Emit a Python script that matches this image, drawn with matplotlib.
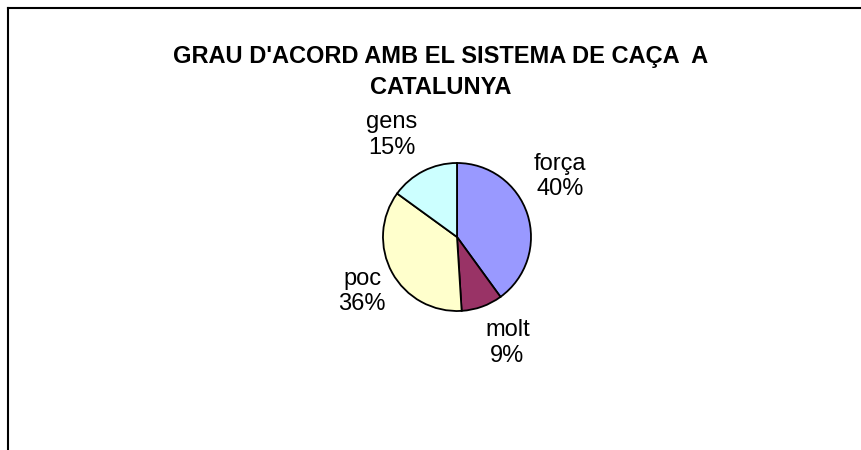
import matplotlib.pyplot as plt
from matplotlib.lines import Line2D

plt.rcParams['font.family'] = ['Liberation Sans', 'DejaVu Sans']

categories = ["força", "molt", "poc", "gens"]
values = [40, 9, 36, 15]
colors = ["#9999FF", "#993366", "#FFFFCC", "#CCFFFF"]
# label centres, in units of the pie radius
label_pos = [(1.39, 0.82), (0.68, -1.43), (-1.28, -0.74), (-0.88, 1.38)]

W, H = 862, 450
fig = plt.figure(figsize=(W / 100, H / 100), dpi=100)

cx, cy, r = 457, 237, 74
ax = fig.add_axes([(cx - r) / W, (H - cy - r) / H, 2 * r / W, 2 * r / H])
wedges, texts = ax.pie(values, colors=colors, startangle=90, counterclock=False,
                       labels=[f"{c}\n{v}%" for c, v in zip(categories, values)],
                       wedgeprops=dict(edgecolor="black", linewidth=1.3),
                       textprops=dict(fontsize=17, linespacing=1.2))
for t, p in zip(texts, label_pos):
    t.set_position(p)
    t.set_ha("center")
    t.set_va("center")
ax.set_xlim(-1, 1)
ax.set_ylim(-1, 1)
ax.set_aspect("equal")

fig.text(441 / W, 1 - 72 / H, "GRAU D'ACORD AMB EL SISTEMA DE CAÇA  A\nCATALUNYA",
         ha="center", va="center", fontsize=17, fontweight="bold", linespacing=1.4)

# chart area border (only left and top visible)
x0, y0 = 8 / W, 1 - 8 / H
fig.add_artist(Line2D([x0, x0], [0, y0], color="black", lw=1.5))
fig.add_artist(Line2D([x0, 1], [y0, y0], color="black", lw=1.5))

fig.savefig("out.png", dpi=100, facecolor="white")
